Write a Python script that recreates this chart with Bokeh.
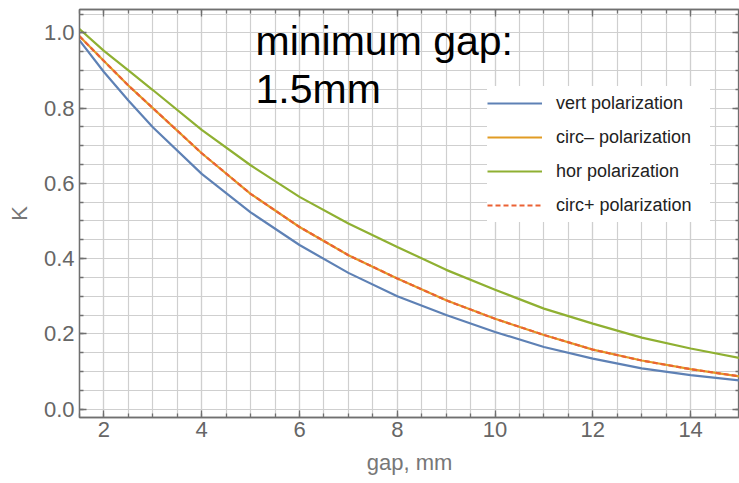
from bokeh.plotting import figure
from bokeh.models import (FixedTicker, LinearAxis, Legend, LegendItem, Label,
                          PrintfTickFormatter)
from bokeh.embed import file_html
from bokeh.resources import INLINE

# ---- data ----
gap = [1.5, 2, 2.5, 3, 4, 5, 6, 7, 8, 9, 10, 11, 12, 13, 14, 15]
k_vert = [0.980, 0.896, 0.820, 0.749, 0.625, 0.523, 0.436, 0.362, 0.300,
          0.250, 0.205, 0.165, 0.134, 0.108, 0.090, 0.076]
k_circ_minus = [0.991, 0.925, 0.860, 0.800, 0.680, 0.572, 0.484, 0.409, 0.347,
                0.289, 0.240, 0.197, 0.158, 0.129, 0.106, 0.087]
k_hor = [1.010, 0.952, 0.900, 0.848, 0.742, 0.648, 0.564, 0.493, 0.431,
         0.370, 0.317, 0.267, 0.227, 0.190, 0.161, 0.136]
k_circ_plus = k_circ_minus

series_labels = ["vert polarization", "circ\u2013 polarization",
                 "hor polarization", "circ+ polarization"]
x_major = [2, 4, 6, 8, 10, 12, 14]
x_minor = [1.5 + 0.5 * i for i in range(28)]
y_major = [0.0, 0.2, 0.4, 0.6, 0.8, 1.0]
y_minor = [round(0.05 * i, 2) for i in range(22)]
annotation_lines = ["minimum gap:", "1.5mm"]

FONT = "Liberation Sans"
GRAY = "#707070"
GRID = "#cfcfcf"

p = figure(width=739, height=483, x_range=(1.5, 15.0), y_range=(-0.0224, 1.062),
           output_backend="svg", toolbar_location=None,
           min_border_left=79, min_border_right=0, min_border_top=9,
           min_border_bottom=66, x_axis_label="gap, mm", y_axis_label="K",
           background_fill_color="white", border_fill_color="white")
p.outline_line_color = GRAY
p.outline_line_width = 1.3

xt = FixedTicker(ticks=x_major, minor_ticks=x_minor)
yt = FixedTicker(ticks=y_major, minor_ticks=y_minor)

def style_axis(ax, labels=True):
    ax.axis_line_color = GRAY
    ax.axis_line_width = 1.3
    ax.major_tick_line_color = GRAY
    ax.minor_tick_line_color = GRAY
    ax.major_tick_line_width = 1.3
    ax.minor_tick_line_width = 1.3
    ax.major_tick_in = 7
    ax.major_tick_out = 0
    ax.minor_tick_in = 4
    ax.minor_tick_out = 0
    if labels:
        ax.major_label_text_font = FONT
        ax.major_label_text_font_size = "22px"
        ax.major_label_text_color = "#666666"
        ax.axis_label_text_font = FONT
        ax.axis_label_text_font_size = "22px"
        ax.axis_label_text_color = "#777777"
        ax.axis_label_text_font_style = "normal"
    else:
        ax.major_label_text_font_size = "1px"
        ax.major_label_text_color = None
        ax.major_label_standoff = 0

p.xaxis.ticker = xt
p.yaxis.ticker = yt
p.yaxis.formatter = PrintfTickFormatter(format="%.1f")
style_axis(p.xaxis[0])
style_axis(p.yaxis[0])
p.xaxis.major_label_standoff = 4
p.xaxis.axis_label_standoff = 10
p.yaxis.major_label_standoff = 5
p.yaxis.axis_label_standoff = 9

top = LinearAxis(ticker=FixedTicker(ticks=x_major, minor_ticks=x_minor))
right = LinearAxis(ticker=FixedTicker(ticks=y_major, minor_ticks=y_minor))
style_axis(top, labels=False)
style_axis(right, labels=False)
p.add_layout(top, "above")
p.add_layout(right, "right")

for g in (p.xgrid[0], p.ygrid[0]):
    g.grid_line_color = GRID
    g.grid_line_width = 1.2
    g.minor_grid_line_color = GRID
    g.minor_grid_line_width = 1.2

r1 = p.line(gap, k_vert, line_color="#5E81B5", line_width=2.2)
r2 = p.line(gap, k_circ_minus, line_color="#E19C24", line_width=2.2)
r3 = p.line(gap, k_hor, line_color="#8FB032", line_width=2.2)
r4 = p.line(gap, k_circ_plus, line_color="#EB6235", line_width=2.2,
            line_dash="5 3")

legend = Legend(items=[LegendItem(label=series_labels[i], renderers=[r])
                       for i, r in enumerate([r1, r2, r3, r4])],
                location=(408, 195), orientation="vertical")
legend.padding = 8
legend.margin = 0
legend.spacing = 0
legend.glyph_width = 55
legend.glyph_height = 34
legend.label_height = 34
legend.label_width = 154
legend.label_standoff = 14
legend.label_text_font = FONT
legend.label_text_font_size = "18px"
legend.label_text_color = "#222222"
legend.border_line_color = None
legend.background_fill_color = "white"
legend.background_fill_alpha = 1.0
p.add_layout(legend)

p.add_layout(Label(x=5.1, y=0.979, text=annotation_lines[0],
                   text_font=FONT, text_font_size="41px", text_color="black",
                   text_baseline="alphabetic"))
p.add_layout(Label(x=5.1, y=0.851, text=annotation_lines[1],
                   text_font=FONT, text_font_size="41px", text_color="black",
                   text_baseline="alphabetic"))

open("out.html", "w").write(file_html(p, INLINE))
